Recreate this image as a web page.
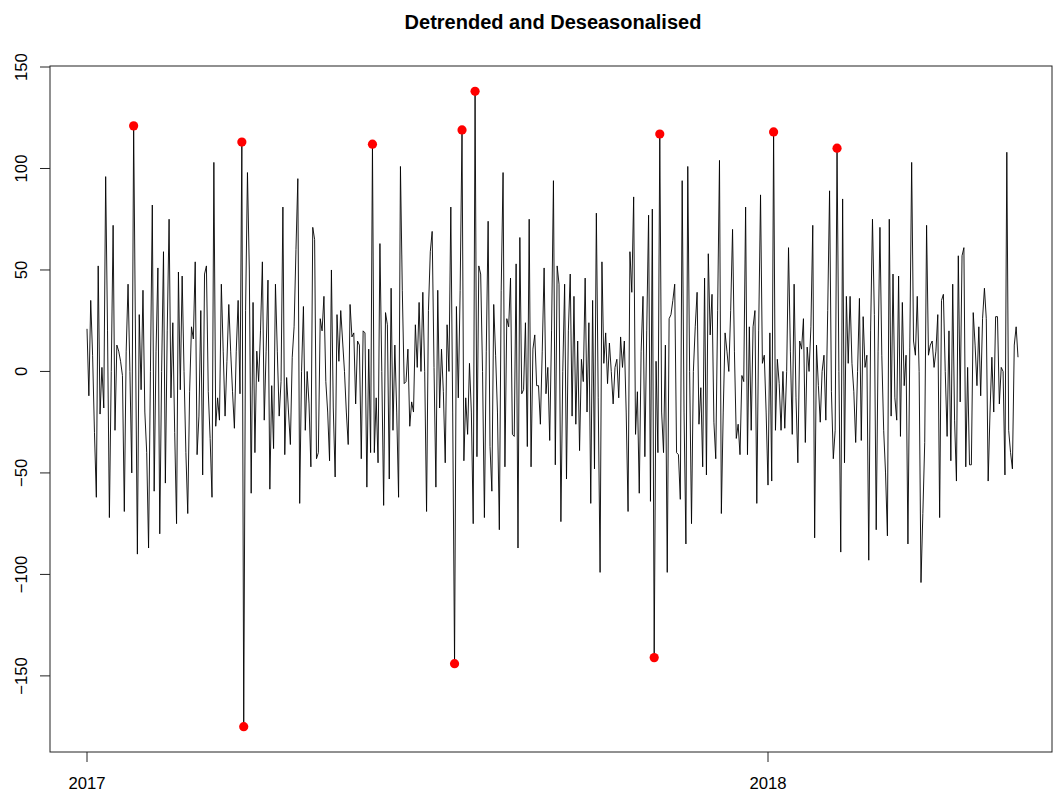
<!DOCTYPE html>
<html>
<head>
<meta charset="utf-8">
<script src="https://cdn.jsdelivr.net/npm/d3@7"></script>
<style>
  body { margin: 0; background: #fff; }
  svg { display: block; font-family: "Liberation Sans", Arial, sans-serif; }
</style>
</head>
<body>
<div id="root"></div>
<script>
// Daily detrended + deseasonalised values, starting 2017-01-01
const values = [
  21, -12, 35, 8, -30, -62, 52, -21, 2, -18, 96, 20, -72, 0, 72, -29, 13, 10, 5, -2,
  -69, 10, 43, 0, -50, 121, 15, -90, 28, -9, 40, -20, -40, -87, 0, 82, -59, 10, 51, -80,
  0, 59, -55, 20, 75, -13, 24, -30, -75, 49, -9, 47, 0, -40, -70, -10, 22, 16, 54, -41,
  -22, 30, -51, 48, 52, -10, -33, -62, 103, -27, -13, -24, 43, 10, -22, 5, 33, 10, -10, -28,
  10, 35, -11, 113, -175, 30, 98, 50, -60, 34, -40, 10, -5, 20, 54, -24, 10, 45, -58, -7,
  -38, 43, 10, -22, -5, 81, -41, -3, -20, -36, 7, 22, 60, 95, -65, 0, 32, -29, 0, -16,
  -47, 71, 65, -43, -40, 26, 20, 37, -5, -20, -44, 50, -18, -52, 28, 5, 30, 15, 0, -20,
  -36, 33, 17, 19, -16, 15, 13, -43, 20, 19, -57, 11, -40, 112, -40, -13, -45, 63, 0, -66,
  29, 23, -53, 41, -29, 13, -20, -62, 101, 40, -6, -5, 11, -27, -15, -20, 23, 2, 34, 0,
  39, 0, -69, 30, 59, 69, 2, -57, 40, -18, 11, -10, -45, 23, 0, 81, -20, -144, 32, -13,
  40, 119, -44, -13, -31, 4, -20, -75, 138, -42, 52, 48, 0, -72, 10, 74, -37, -59, 33, 8,
  -20, -78, 40, 98, -47, 26, 22, 46, -31, -32, 53, -87, 66, -11, -9, 24, -37, 75, -47, 11,
  18, -7, -7, -26, 10, 51, -11, 2, -34, 20, 94, -46, 52, 43, -74, 0, 43, -53, 20, 48,
  -22, 37, -26, 15, -39, 6, -5, 46, -20, 24, -65, 35, -48, 78, -13, -99, 54, 4, 19, -6,
  14, 0, -16, 2, 6, -13, 17, 2, 15, -20, -69, 59, 39, 86, -31, -10, -60, 10, 37, -42,
  20, 77, -64, 80, -141, 5, -40, 117, -20, -40, 13, -99, 26, 28, 35, 43, -40, -41, -63, 94,
  -20, -85, 101, 0, -75, 0, 22, 39, -26, -8, -47, 46, -51, 58, 18, 38, -25, -43, 30, 104,
  -70, -20, 19, 10, 0, 30, 70, 10, -33, -26, -41, -2, -5, 81, -41, 22, -29, 22, 30, -65,
  20, 87, 4, 8, -20, -56, 19, -54, 118, -29, 6, -6, -29, 0, -28, 0, 61, 10, -31, 43,
  -13, -45, 15, 11, 26, -35, 12, 0, 22, 72, -82, 13, -7, -25, 0, 8, -24, 30, 89, -10,
  -43, -29, 110, 0, -89, 85, -45, 37, 4, 37, 4, -10, -35, 0, 36, -34, 27, 2, 8, -93,
  20, 75, 28, -78, 10, 71, 8, -29, -50, -81, 75, -22, 48, -13, -24, 47, -32, 34, -7, 8,
  -85, 12, 103, 15, 8, 37, 0, -104, -70, -35, 72, 8, 13, 15, 2, 10, 28, -72, 35, 38,
  0, -32, 20, -44, 43, -24, -54, 57, -15, 57, 61, -47, 2, -46, -46, 29, 13, -7, 22, -12,
  26, 41, 26, -54, -20, 7, -20, 27, 27, -16, 2, 0, -51, 108, -29, -40, -48, 13, 22, 7,
];

// Indices of the flagged outliers (red points)
const outlierIdx = [25, 83, 84, 153, 197, 201, 208, 304, 307, 368, 402];

// Axis ticks
const yearTicks = [2017, 2018];
const yTicks = [-150, -100, -50, 0, 50, 100, 150];

const titleText = "Detrended and Deseasonalised";

function drawChart() {
  const width = 1056;
  const height = 798;
  const box = { left: 50, right: 1052, top: 66, bottom: 752 };

  const startDate = new Date(2017, 0, 1);
  const data = values.map((v, i) => ({
    date: d3.timeDay.offset(startDate, i),
    value: v,
  }));

  const svg = d3
    .select("#root")
    .append("svg")
    .attr("width", width)
    .attr("height", height);

  svg.append("rect").attr("width", width).attr("height", height).attr("fill", "#fff");

  // Scales
  const xScale = d3
    .scaleTime()
    .domain([new Date(2017, 0, 1), new Date(2018, 0, 1)])
    .range([87, 768]);
  const yScale = d3
    .scaleLinear()
    .domain([-187.5, 150.5])
    .range([box.bottom, box.top]);

  // Title
  svg
    .append("text")
    .attr("x", (box.left + box.right) / 2 + 2)
    .attr("y", 29)
    .attr("text-anchor", "middle")
    .style("font-size", "20px")
    .style("font-weight", "bold")
    .text(titleText);

  // Series line
  const line = d3
    .line()
    .x((d) => xScale(d.date))
    .y((d) => yScale(d.value));

  svg
    .append("path")
    .datum(data)
    .attr("fill", "none")
    .attr("stroke", "#000")
    .attr("stroke-width", 0.9)
    .attr("d", line);

  // Outlier points
  svg
    .selectAll(".outlier")
    .data(outlierIdx.map((i) => data[i]))
    .enter()
    .append("circle")
    .attr("class", "outlier")
    .attr("cx", (d) => xScale(d.date))
    .attr("cy", (d) => yScale(d.value))
    .attr("r", 4.6)
    .attr("fill", "#ff0000");

  // Plot box
  svg
    .append("rect")
    .attr("x", box.left)
    .attr("y", box.top)
    .attr("width", box.right - box.left)
    .attr("height", box.bottom - box.top)
    .attr("fill", "none")
    .attr("stroke", "#222")
    .attr("stroke-width", 1);

  // X axis (R style: ticks and labels only)
  const xAxis = svg.append("g").attr("id", "x-axis");
  yearTicks.forEach((yr) => {
    const x = xScale(new Date(yr, 0, 1));
    xAxis
      .append("line")
      .attr("x1", x)
      .attr("x2", x)
      .attr("y1", box.bottom)
      .attr("y2", box.bottom + 10)
      .attr("stroke", "#222");
    xAxis
      .append("text")
      .attr("x", x)
      .attr("y", 789)
      .attr("text-anchor", "middle")
      .style("font-size", "16.7px")
      .text(yr);
  });

  // Y axis
  const yAxis = svg.append("g").attr("id", "y-axis");
  yTicks.forEach((t) => {
    const y = yScale(t);
    yAxis
      .append("line")
      .attr("x1", box.left - 10)
      .attr("x2", box.left)
      .attr("y1", y)
      .attr("y2", y)
      .attr("stroke", "#222");
    yAxis
      .append("text")
      .attr("transform", `translate(26.5, ${y}) rotate(-90)`)
      .attr("text-anchor", "middle")
      .style("font-size", "16.7px")
      .text(t < 0 ? "\u2212" + Math.abs(t) : t);
  });
}

drawChart();
</script>
</body>
</html>
